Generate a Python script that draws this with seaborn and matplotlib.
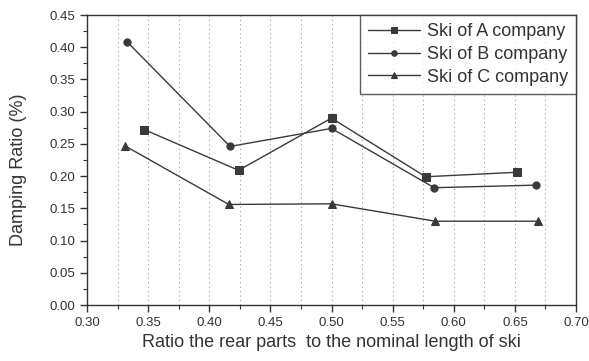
import numpy as np
import pandas as pd
import seaborn as sns
import matplotlib
matplotlib.use("Agg")
import matplotlib.pyplot as plt
from matplotlib.ticker import MultipleLocator

# Data
x_A = [0.347, 0.424, 0.500, 0.577, 0.652]
y_A = [0.272, 0.209, 0.290, 0.199, 0.206]
x_B = [0.333, 0.417, 0.500, 0.584, 0.667]
y_B = [0.408, 0.246, 0.274, 0.182, 0.186]
x_C = [0.331, 0.416, 0.500, 0.585, 0.669]
y_C = [0.247, 0.156, 0.157, 0.130, 0.130]
series_names = ["Ski of A company", "Ski of B company", "Ski of C company"]

df = pd.concat([
    pd.DataFrame({"x": x_A, "y": y_A, "series": series_names[0]}),
    pd.DataFrame({"x": x_B, "y": y_B, "series": series_names[1]}),
    pd.DataFrame({"x": x_C, "y": y_C, "series": series_names[2]}),
], ignore_index=True)

sns.set_theme(style="white")
plt.rcParams['font.family'] = ['Liberation Sans', 'DejaVu Sans']

fig = plt.figure(figsize=(5.89, 3.61), dpi=100)
ax = fig.add_axes([87/589, 1-305/361, (576-87)/589, (305-15)/361])

col = "#3a3a3a"
markers = {series_names[0]: "s", series_names[1]: "o", series_names[2]: "^"}
sns.lineplot(data=df, x="x", y="y", hue="series", style="series",
             markers=markers, dashes=False,
             palette=[col, col, col], linewidth=1.0, markersize=5.2,
             markeredgecolor=col, sort=False, ax=ax)

ax.set_xlim(0.30, 0.70)
ax.set_ylim(0.0, 0.45)
ax.xaxis.set_major_locator(MultipleLocator(0.05))
ax.xaxis.set_minor_locator(MultipleLocator(0.025))
ax.yaxis.set_major_locator(MultipleLocator(0.05))
ax.yaxis.set_minor_locator(MultipleLocator(0.025))
ax.xaxis.set_major_formatter(matplotlib.ticker.FormatStrFormatter('%.2f'))
ax.yaxis.set_major_formatter(matplotlib.ticker.FormatStrFormatter('%.2f'))

ax.grid(True, which="both", axis="x", linestyle=(0, (1, 3)), color="#999999", linewidth=0.8)
ax.grid(False, axis="y", which="both")

ax.tick_params(axis="both", which="major", direction="out", length=5, width=1,
               color="#333333", labelsize=9.5, labelcolor="#333333",
               bottom=True, left=True, top=False, right=False)
ax.tick_params(axis="both", which="minor", direction="out", length=3, width=0.8,
               color="#333333", bottom=True, left=True, top=False, right=False)

for s in ax.spines.values():
    s.set_color("#333333")
    s.set_linewidth(1.0)
    s.set_visible(True)

ax.set_xlabel("Ratio the rear parts  to the nominal length of ski", fontsize=13, color="#333333")
ax.set_ylabel("Damping Ratio (%)", fontsize=13, color="#333333")
ax.yaxis.set_label_coords(-0.123, 0.466)

leg = ax.legend(loc="upper right", borderaxespad=0, fontsize=13, handlelength=2.9,
                frameon=True, fancybox=False, edgecolor="#333333",
                labelspacing=0.32, borderpad=0.45, handletextpad=0.35)
leg.get_frame().set_linewidth(1.0)
for t in leg.get_texts():
    t.set_color("#333333")
for ln in leg.get_lines():
    ln.set_markersize(4)

fig.savefig("out.png", dpi=100, facecolor="white")
